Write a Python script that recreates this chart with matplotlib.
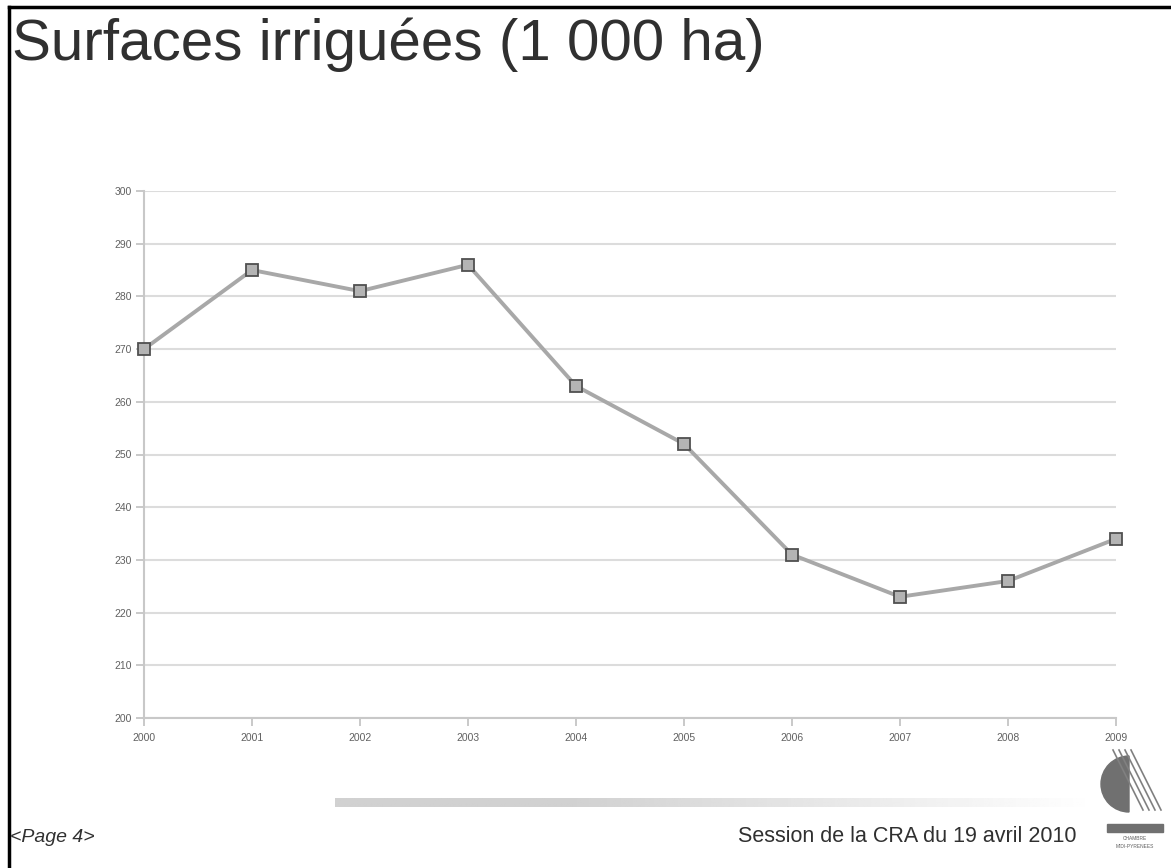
import numpy as np
import matplotlib
matplotlib.use('Agg')
from matplotlib import pyplot as plt
from matplotlib.lines import Line2D
from matplotlib.patches import Wedge, Rectangle

years = [2000, 2001, 2002, 2003, 2004, 2005, 2006, 2007, 2008, 2009]
surfaces = [270, 285, 281, 286, 263, 252, 231, 223, 226, 234]
y_ticks = list(range(200, 301, 10))

title = 'Surfaces irriguées (1 000 ha)'
page_txt = '<Page 4>'
session_txt = 'Session de la CRA du 19 avril 2010'

plt.rcParams['font.family'] = ['Liberation Sans', 'DejaVu Sans']

W, H = 1171, 868
fig = plt.figure(figsize=(W / 100, H / 100), dpi=100)

# zone du graphique (en pixels de l'image de ref)
left, right, top, bottom = 144, 1116, 191, 718
ax = fig.add_axes([left / W, 1 - bottom / H, (right - left) / W, (bottom - top) / H])

ax.plot(years, surfaces, color='#a8a8a8', lw=2.8, zorder=3, clip_on=False,
        marker='s', markersize=9, markerfacecolor='#b4b4b4',
        markeredgecolor='#505050', markeredgewidth=1.3)

ax.set_xlim(2000, 2009)
ax.set_ylim(200, 300)
ax.set_xticks(years)
ax.set_yticks(y_ticks)
ax.set_xticklabels([str(y) for y in years])
ax.grid(axis='y', color='#dcdcdc', lw=1.5)
ax.set_axisbelow(True)
for s in ['top', 'right']:
    ax.spines[s].set_visible(False)
for s in ['left', 'bottom']:
    ax.spines[s].set_color('#c8c8c8')
    ax.spines[s].set_linewidth(1.5)
ax.tick_params(axis='both', colors='#c0c0c0', length=6, width=1.2,
               labelsize=7.5, labelcolor='#606060')
ax.tick_params(axis='x', pad=5)
ax.tick_params(axis='y', pad=3)

# titre et pied de page
fig.text(12 / W, 1 - 45 / H, title, fontsize=42, color='#303030', va='center', ha='left')
fig.text(10 / W, 1 - 838 / H, page_txt, fontsize=14, style='italic',
         color='#303030', va='center', ha='left')
fig.text(1077 / W, 1 - 837 / H, session_txt, fontsize=15.5, color='#303030',
         va='center', ha='right')

# barre degradee
gax = fig.add_axes([335 / W, 1 - 807 / H, (1095 - 335) / W, 9 / H])
grad = np.concatenate([np.full(80, 0.82), np.linspace(0.82, 1.0, 176)]).reshape(1, -1)
gax.imshow(grad, aspect='auto', cmap='gray', vmin=0, vmax=1)
gax.axis('off')

# logo simplifie
lax = fig.add_axes([1095 / W, 1 - 868 / H, 76 / W, 120 / H])
lax.set_xlim(0, 76)
lax.set_ylim(0, 120)
lax.axis('off')
lax.add_patch(Wedge((34, 84), 28, 90, 270, color='#707070'))
for k in range(4):
    lax.plot([18 + 6 * k, 48 + 6 * k], [118, 58], color='#808080', lw=1.2)
lax.add_patch(Rectangle((12, 36), 56, 8, color='#707070'))
lax.text(40, 30, 'CHAMBRE', fontsize=3.5, ha='center', va='center', color='#606060')
lax.text(40, 22, 'MIDI-PYRENEES', fontsize=3.5, ha='center', va='center', color='#606060')

# cadre noir
fig.add_artist(Line2D([9 / W, 9 / W], [0, 1 - 7 / H], color='black', lw=2.5))
fig.add_artist(Line2D([9 / W, 1], [1 - 7 / H, 1 - 7 / H], color='black', lw=2.5))

plt.savefig('out.png', dpi=100)
